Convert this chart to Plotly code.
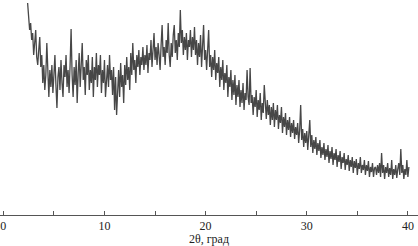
import numpy as np
import plotly.graph_objects as go

# 2θ sampling grid (degrees)
theta_start = 2.4
theta_step = 0.1

# Diffraction intensity (arb. units) at 0.1° steps from 2.4°
intensity = [
    212, 200, 185, 192, 175, 182, 160, 172, 185, 158,
    150, 165, 178, 148, 160, 132, 150, 125, 140, 172,
    135, 118, 145, 128, 150, 122, 140, 160, 130, 107,
    138, 148, 125, 155, 132, 118, 150, 138, 160, 128,
    145, 122, 150, 186, 140, 118, 148, 130, 155, 112,
    142, 162, 128, 150, 172, 135, 148, 120, 155, 140,
    160, 125, 145, 132, 158, 118, 148, 135, 162, 128,
    150, 140, 160, 122, 145, 132, 155, 118, 142, 150,
    128, 160, 135, 145, 120, 148, 105, 138, 100, 130,
    145, 118, 152, 128, 140, 112, 150, 130, 158, 135,
    148, 125, 162, 140, 172, 145, 155, 132, 160, 148,
    165, 140, 158, 150, 168, 145, 160, 150, 170, 142,
    162, 155, 175, 148, 165, 182, 155, 168, 150, 172,
    160, 145, 170, 190, 158, 168, 150, 175, 162, 192,
    160, 148, 172, 158, 180, 190, 162, 175, 155, 182,
    168, 205, 172, 185, 160, 178, 165, 182, 155, 175,
    168, 185, 158, 178, 165, 188, 160, 175, 150, 172,
    158, 180, 148, 168, 190, 155, 165, 145, 162, 185,
    148, 160, 138, 158, 145, 165, 135, 152, 142, 158,
    128, 148, 135, 155, 125, 142, 132, 150, 118, 138,
    128, 145, 115, 135, 120, 140, 110, 130, 118, 135,
    108, 125, 112, 132, 105, 122, 115, 145, 118, 110,
    147, 112, 120, 100, 118, 108, 125, 98, 115, 105,
    122, 95, 112, 102, 130, 110, 96, 115, 100, 110,
    90, 108, 95, 112, 88, 105, 95, 110, 86, 100,
    92, 108, 82, 98, 88, 102, 80, 95, 85, 98,
    78, 92, 82, 95, 76, 88, 80, 92, 72, 85,
    110, 75, 86, 68, 82, 72, 84, 65, 78, 95,
    68, 80, 62, 75, 66, 78, 60, 72, 64, 75,
    57, 68, 60, 72, 55, 66, 58, 70, 52, 64,
    56, 68, 50, 62, 55, 66, 48, 60, 53, 64,
    46, 58, 52, 62, 45, 56, 50, 60, 44, 55,
    48, 58, 42, 54, 47, 56, 40, 52, 46, 58,
    42, 50, 45, 55, 40, 50, 44, 54, 38, 48,
    43, 52, 38, 47, 48, 40, 50, 42, 52, 38,
    62, 42, 50, 36, 48, 42, 52, 38, 47, 40,
    55, 36, 46, 40, 50, 37, 46, 52, 40, 66,
    42, 50, 36, 46, 40, 55, 38, 48,
]

theta = np.round(theta_start + theta_step * np.arange(len(intensity)), 2)

major_ticks = [0, 10, 20, 30, 40]
all_ticks = [0, 5, 10, 15, 20, 25, 30, 35, 40]
tick_text = [str(t) if t in major_ticks else "" for t in all_ticks]

fig = go.Figure()
fig.add_trace(go.Scatter(
    x=theta, y=intensity, mode="lines",
    line=dict(color="#474747", width=1.3),
    hoverinfo="skip", showlegend=False,
))

fig.update_layout(
    width=418, height=246,
    margin=dict(l=0, r=0, t=0, b=31),
    paper_bgcolor="white", plot_bgcolor="white",
    font=dict(family="Liberation Serif", size=12, color="#222"),
    xaxis=dict(
        range=[-0.33, 41.0],
        tickvals=all_ticks, ticktext=tick_text,
        ticks="inside", ticklen=4, tickcolor="#555", tickwidth=1,
        showline=True, linecolor="#555", linewidth=1,
        showgrid=False, zeroline=False, automargin=False,
        tickfont=dict(family="Liberation Serif", size=12, color="#222"),
        title=dict(text="2θ, град", standoff=4,
                   font=dict(family="Liberation Serif", size=12, color="#222")),
    ),
    yaxis=dict(
        range=[0, 215], visible=False, showgrid=False, zeroline=False,
    ),
)

fig.write_html("out.html")
